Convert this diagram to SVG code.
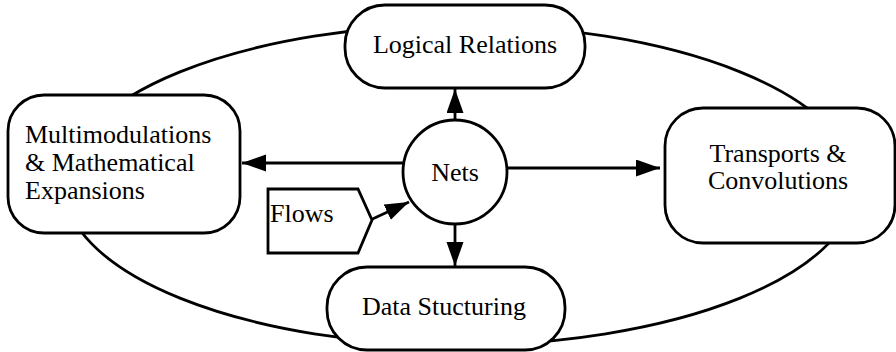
<svg xmlns="http://www.w3.org/2000/svg" width="896" height="352" viewBox="0 0 896 352">
<style>
.s{fill:#fff;stroke:#000;stroke-width:2.8}
.c{fill:none;stroke:#000;stroke-width:2.8}
.t{font-family:"Liberation Serif","Times New Roman",serif;font-size:26px;fill:#000}
.m{text-anchor:middle}
</style>
<defs>
<marker id="ah" markerUnits="userSpaceOnUse" markerWidth="26" markerHeight="18" refX="24" refY="8.5" orient="auto">
<path d="M0,0 L24,8.5 L0,17 z" fill="#000"/>
</marker>
</defs>
<rect width="896" height="352" fill="#fff"/>
<ellipse cx="460" cy="185" rx="396" ry="160" class="c"/>
<g id="connectors">
<line x1="455" y1="120" x2="455" y2="89" class="c" marker-end="url(#ah)"/>
<line x1="403" y1="163" x2="242" y2="163" class="c" marker-end="url(#ah)"/>
<line x1="507" y1="168" x2="660" y2="168" class="c" marker-end="url(#ah)"/>
<line x1="455" y1="224" x2="455" y2="266" class="c" marker-end="url(#ah)"/>
<line x1="366" y1="222" x2="409" y2="202" class="c" marker-end="url(#ah)"/>
</g>
<g id="logical">
<rect x="345" y="5" width="240" height="83" rx="40" class="s"/>
<text x="465" y="53" class="t m">Logical Relations</text>
</g>
<g id="multi">
<rect x="8" y="95" width="232" height="138" rx="36" class="s"/>
<text x="25" y="143" class="t">Multimodulations</text>
<text x="25" y="171" class="t">&amp; Mathematical</text>
<text x="25" y="199" class="t">Expansions</text>
</g>
<g id="transports">
<rect x="665" y="108" width="230" height="135" rx="38" class="s"/>
<text x="778" y="162" class="t m">Transports &amp;</text>
<text x="778" y="189" class="t m">Convolutions</text>
</g>
<g id="data">
<rect x="327" y="267" width="238" height="83" rx="40" class="s"/>
<text x="444" y="315" class="t m">Data Stucturing</text>
</g>
<g id="nets">
<circle cx="455" cy="172" r="52" class="s"/>
<text x="455" y="181" class="t m">Nets</text>
</g>
<g id="flows">
<polygon points="268,189 358,189 372,220 358,253 268,253" class="s"/>
<text x="270" y="222" class="t">Flows</text>
</g>
</svg>
